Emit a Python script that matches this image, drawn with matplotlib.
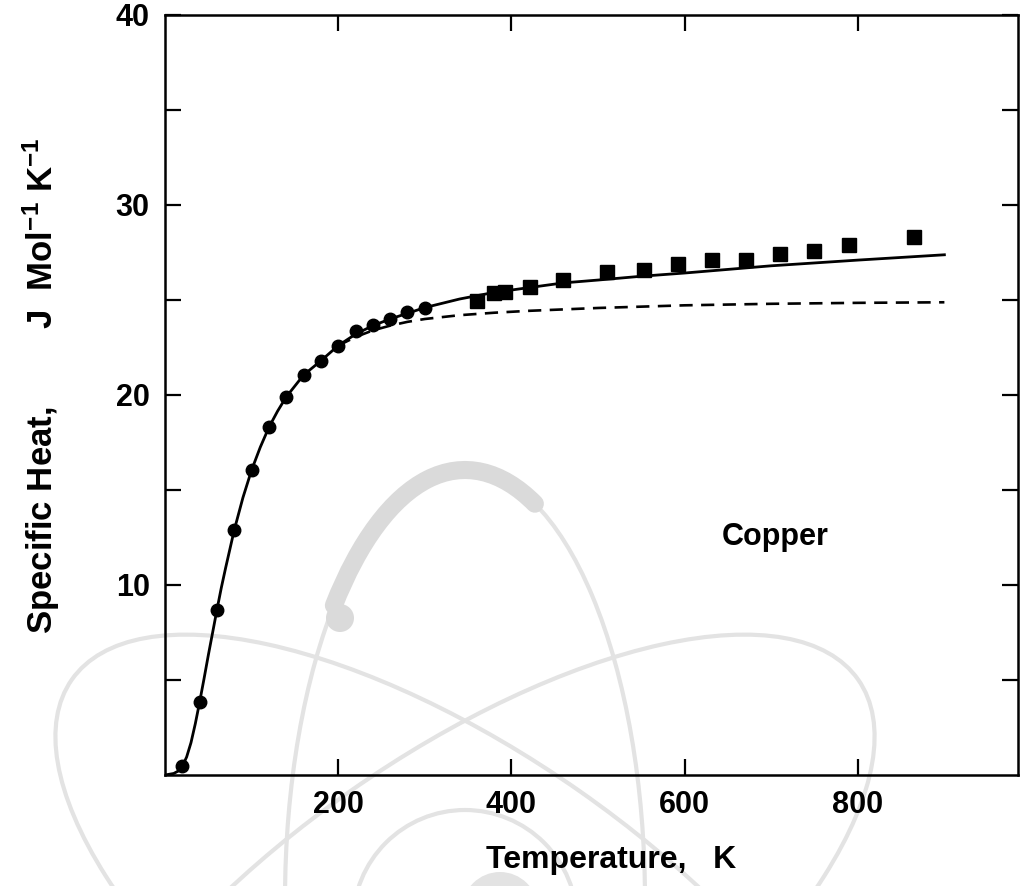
import matplotlib
matplotlib.use("Agg")
import matplotlib.pyplot as plt
from matplotlib.patches import Ellipse, Arc, Circle

plt.rcParams["font.family"] = ["Liberation Sans", "DejaVu Sans"]
plt.rcParams["mathtext.fontset"] = "custom"
plt.rcParams["mathtext.rm"] = "Liberation Sans:bold"
plt.rcParams["mathtext.default"] = "rm"

# Measured specific heat of copper, low-temperature set (circles)
temp_low = [20, 40, 60, 80, 100, 120, 140, 160, 180, 200, 220, 240, 260, 280, 300]
cp_low = [0.46, 3.84, 8.7, 12.9, 16.05, 18.3, 19.9, 21.05, 21.8, 22.6, 23.35, 23.7,
          24.0, 24.35, 24.6]

# Measured specific heat, high-temperature set (squares)
temp_high = [360, 380, 393, 422, 460, 510, 553, 592, 632, 671, 710, 750, 790, 865]
cp_high = [24.96, 25.36, 25.44, 25.70, 26.04, 26.46, 26.57, 26.88, 27.08, 27.12,
           27.4, 27.57, 27.88, 28.33]

# Full calculated curve (solid)
temp_calc = [0, 10, 15, 20, 25, 30, 35, 40, 45, 50, 55, 60, 65, 70, 80, 90, 100, 110,
             120, 130, 140, 160, 180, 200, 220, 240, 260, 280, 300, 340, 380, 420,
             460, 500, 550, 600, 700, 800, 900]
cp_calc = [0, 0.08, 0.2, 0.46, 0.95, 1.7, 2.7, 3.84, 5.05, 6.3, 7.5, 8.7, 9.85, 10.9,
           12.9, 14.6, 16.05, 17.25, 18.3, 19.15, 19.9, 21.05, 21.8, 22.6, 23.2, 23.65,
           24.0, 24.3, 24.6, 25.05, 25.4, 25.65, 25.9, 26.05, 26.25, 26.42, 26.8, 27.1,
           27.38]

# Lattice-only (Debye) curve (dashed)
temp_debye = [200, 220, 240, 260, 280, 300, 340, 380, 420, 500, 600, 700, 800, 900]
cp_debye = [22.6, 23.05, 23.4, 23.65, 23.85, 24.0, 24.2, 24.33, 24.43, 24.58, 24.72,
            24.8, 24.85, 24.88]

x_ticks = [200, 400, 600, 800]
y_major = [10, 20, 30, 40]
y_minor = [5, 15, 25, 35]

W, H = 1024, 886
fig = plt.figure(figsize=(W / 100, H / 100), dpi=100)
fig.patch.set_facecolor("white")

# Faint atom emblem in the background
wm = fig.add_axes([0, 0, 1, 1], zorder=0)
wm.set_xlim(0, W)
wm.set_ylim(H, 0)
wm.axis("off")
thin = dict(fill=False, ec="#e3e3e3", lw=3.0)
wm.add_patch(Ellipse((465, 955), 960, 400, angle=35, **thin))
wm.add_patch(Ellipse((465, 955), 960, 400, angle=-35, **thin))
wm.add_patch(Ellipse((465, 900), 360, 860, angle=0, **thin))
wm.add_patch(Arc((465, 900), 360, 860, angle=0, theta1=246, theta2=280,
                 ec="#dadada", lw=13, capstyle="round"))
wm.add_patch(Circle((340, 618), 14, fc="#dadada", ec="none"))
wm.add_patch(Circle((465, 922), 112, **thin))
wm.add_patch(Circle((500, 910), 38, fc="#e3e3e3", ec="none"))

ax = fig.add_axes([165 / W, 1 - 775 / H, (1018 - 165) / W, (775 - 15) / H], zorder=1)
ax.set_facecolor("none")

ax.plot(temp_debye, cp_debye, color="black", lw=1.9, ls=(0, (5, 3.2)))
ax.plot(temp_calc, cp_calc, color="black", lw=2.0)
ax.plot(temp_low, cp_low, ls="none", marker="o", ms=9, color="black")
ax.plot(temp_high, cp_high, ls="none", marker="s", ms=9.5, color="black")

ax.set_xlim(0, 985)
ax.set_ylim(0, 40)
ax.set_xticks(x_ticks)
ax.set_yticks(y_major)
ax.set_yticks(y_minor, minor=True)

for side in ax.spines.values():
    side.set_linewidth(1.8)

ax.tick_params(which="both", direction="in", length=11.5, width=1.6,
               top=True, right=True, labelsize=22, pad=11)
for lab in ax.get_xticklabels() + ax.get_yticklabels():
    lab.set_fontweight("bold")

ax.set_xlabel("Temperature,   K", fontsize=23, fontweight="bold")
ax.xaxis.set_label_coords(0.523, -0.092)
ax.set_ylabel("Specific Heat,        J  Mol$^{-1}$ K$^{-1}$", fontsize=25,
              fontweight="bold")
ax.yaxis.set_label_coords(-0.121, 0.512)

ax.text(705, 12.5, "Copper", fontsize=22, fontweight="bold", ha="center", va="center")

fig.savefig("out.png", dpi=100)
